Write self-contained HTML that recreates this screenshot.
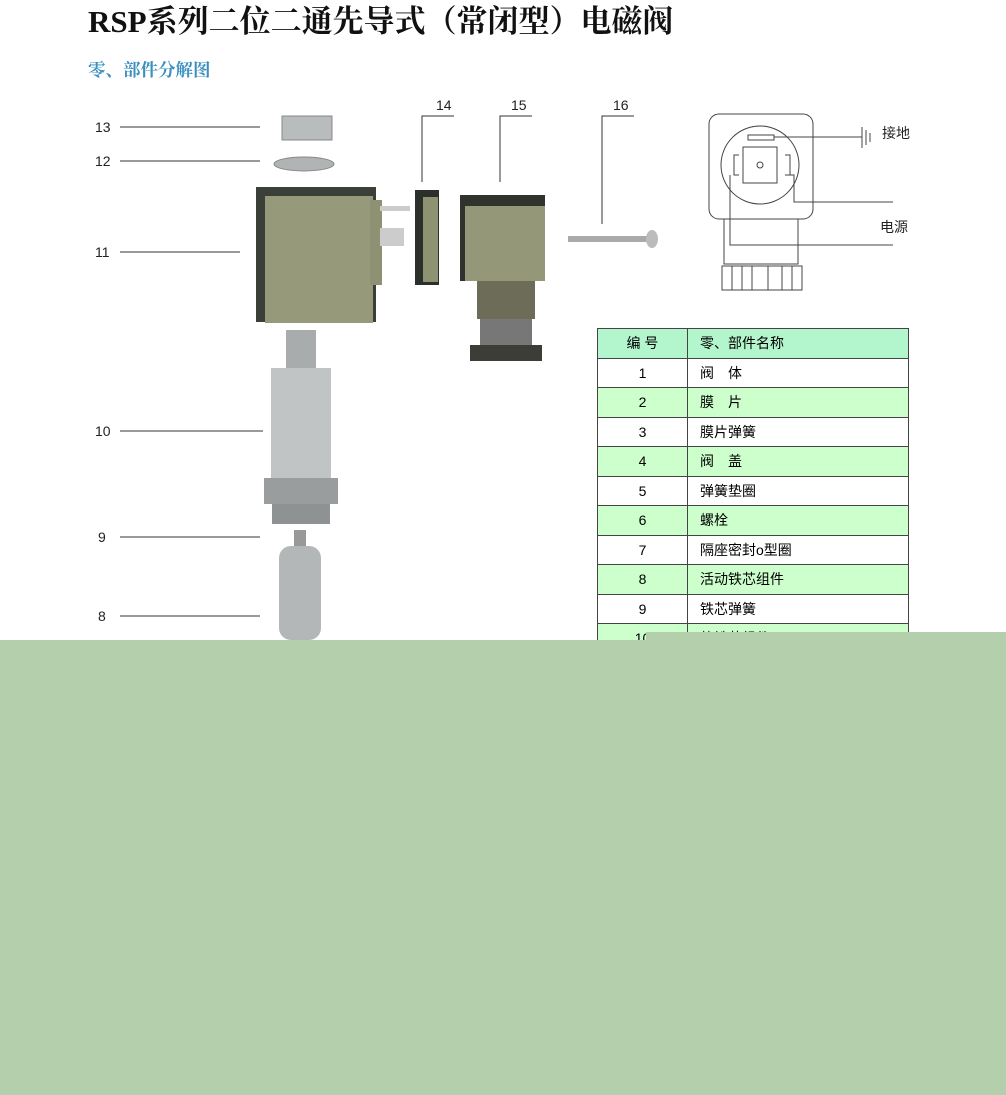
<!DOCTYPE html>
<html><head><meta charset="utf-8"><style>
body{margin:0;width:1006px;height:1095px;position:relative;background:#fff;overflow:hidden;font-family:"Liberation Sans","Noto Sans CJK SC",sans-serif}
.t{position:absolute;white-space:nowrap}
table{position:absolute;left:597px;top:328px;border-collapse:collapse;font-size:14px;table-layout:fixed;width:312px}
td{border:1px solid #444;height:28.5px;padding:0}
td.n{width:89px;text-align:center}td.m{padding-left:12px}
tr.g td{background:#ccffcc}tr.h td{background:#b3f5cc}
</style></head><body>
<div class="t" style="left:88px;top:-4px;font:bold 31px 'Liberation Serif','Noto Serif CJK SC',serif;color:#111">RSP系列二位二通先导式（常闭型）电磁阀</div>
<div class="t" style="left:88px;top:57px;font:bold 17.5px 'Liberation Serif','Noto Serif CJK SC',serif;color:#3a8fc0">零、部件分解图</div>
<table>
<tr class="h"><td class="n">编 号</td><td class="m">零、部件名称</td></tr>
<tr><td class="n">1</td><td class="m">阀　体</td></tr>
<tr class="g"><td class="n">2</td><td class="m">膜　片</td></tr>
<tr><td class="n">3</td><td class="m">膜片弹簧</td></tr>
<tr class="g"><td class="n">4</td><td class="m">阀　盖</td></tr>
<tr><td class="n">5</td><td class="m">弹簧垫圈</td></tr>
<tr class="g"><td class="n">6</td><td class="m">螺栓</td></tr>
<tr><td class="n">7</td><td class="m">隔座密封o型圈</td></tr>
<tr class="g"><td class="n">8</td><td class="m">活动铁芯组件</td></tr>
<tr><td class="n">9</td><td class="m">铁芯弹簧</td></tr>
<tr class="g"><td class="n">10</td><td class="m">静铁芯组件</td></tr>
</table>
<svg width="1006" height="1095" style="position:absolute;left:0;top:0" font-family="Liberation Sans" font-size="14" fill="#222">
<g stroke="#333" stroke-width="1">
<line x1="120" y1="127" x2="260" y2="127"/><line x1="120" y1="161" x2="260" y2="161"/>
<line x1="120" y1="252" x2="240" y2="252"/><line x1="120" y1="431" x2="263" y2="431"/>
<line x1="120" y1="537" x2="260" y2="537"/><line x1="120" y1="616" x2="260" y2="616"/>
<polyline fill="none" points="422,182 422,116 454,116"/><polyline fill="none" points="500,182 500,116 532,116"/><polyline fill="none" points="602,224 602,116 634,116"/>
</g>
<text x="95" y="132">13</text><text x="95" y="166">12</text><text x="95" y="257">11</text><text x="95" y="436">10</text><text x="98" y="542">9</text><text x="98" y="621">8</text>
<text x="436" y="110">14</text><text x="511" y="110">15</text><text x="613" y="110">16</text>
<rect x="282" y="116" width="50" height="24" fill="#b8bcbc" stroke="#888"/>
<ellipse cx="304" cy="164" rx="30" ry="7" fill="#b0b4b4" stroke="#888"/>
<rect x="256" y="187" width="120" height="135" fill="#3a3f38"/>
<rect x="265" y="196" width="108" height="127" fill="#979a7a"/>
<rect x="370" y="200" width="12" height="85" fill="#8e9272"/>
<rect x="380" y="206" width="30" height="5" fill="#ccc"/><rect x="380" y="228" width="24" height="18" fill="#ccc"/>
<rect x="415" y="190" width="24" height="95" fill="#2c302a"/><rect x="423" y="197" width="15" height="85" fill="#8e9272"/>
<rect x="460" y="195" width="85" height="86" fill="#30332d"/><rect x="465" y="206" width="80" height="75" fill="#959878"/>
<rect x="477" y="281" width="58" height="38" fill="#6d6c58"/><rect x="480" y="319" width="52" height="28" fill="#777"/>
<rect x="470" y="345" width="72" height="16" fill="#3c3d37"/>
<rect x="568" y="236" width="80" height="6" fill="#aaa"/><ellipse cx="652" cy="239" rx="6" ry="9" fill="#bbb"/>
<rect x="286" y="330" width="30" height="40" fill="#a9acac"/>
<rect x="271" y="368" width="60" height="110" fill="#c1c4c4"/>
<rect x="264" y="478" width="74" height="26" fill="#9a9d9d"/><rect x="272" y="504" width="58" height="20" fill="#8f9292"/>
<rect x="294" y="530" width="12" height="16" fill="#999"/>
<rect x="279" y="546" width="42" height="94" rx="12" fill="#b4b7b7"/>
<g fill="none" stroke="#444" stroke-width="1">
<rect x="709" y="114" width="104" height="105" rx="10"/>
<circle cx="760" cy="165" r="39"/>
<rect x="748" y="135" width="26" height="5"/>
<rect x="743" y="147" width="34" height="36"/>
<circle cx="760" cy="165" r="3"/>
<polyline points="739,155 734,155 734,175 739,175"/><polyline points="785,155 790,155 790,175 785,175"/>
<line x1="774" y1="137" x2="862" y2="137"/><line x1="862" y1="127" x2="862" y2="148"/><line x1="866" y1="130" x2="866" y2="145"/><line x1="870" y1="133" x2="870" y2="142"/>
<polyline points="790,175 794,175 794,202 893,202"/>
<polyline points="730,175 730,245 893,245"/>
<rect x="724" y="219" width="74" height="45"/>
<rect x="722" y="266" width="80" height="24"/>
<line x1="732" y1="266" x2="732" y2="290"/><line x1="742" y1="266" x2="742" y2="290"/><line x1="752" y1="266" x2="752" y2="290"/><line x1="768" y1="266" x2="768" y2="290"/><line x1="782" y1="266" x2="782" y2="290"/><line x1="792" y1="266" x2="792" y2="290"/>
</g>
<text x="882" y="138" font-family="Liberation Sans, Noto Sans CJK SC">接地</text>
<text x="880" y="232" font-family="Liberation Sans, Noto Sans CJK SC">电源</text>
<polygon points="0,640 646,640 646,632 1006,632 1006,1095 0,1095" fill="#b3cfac"/>
</svg>
</body></html>
